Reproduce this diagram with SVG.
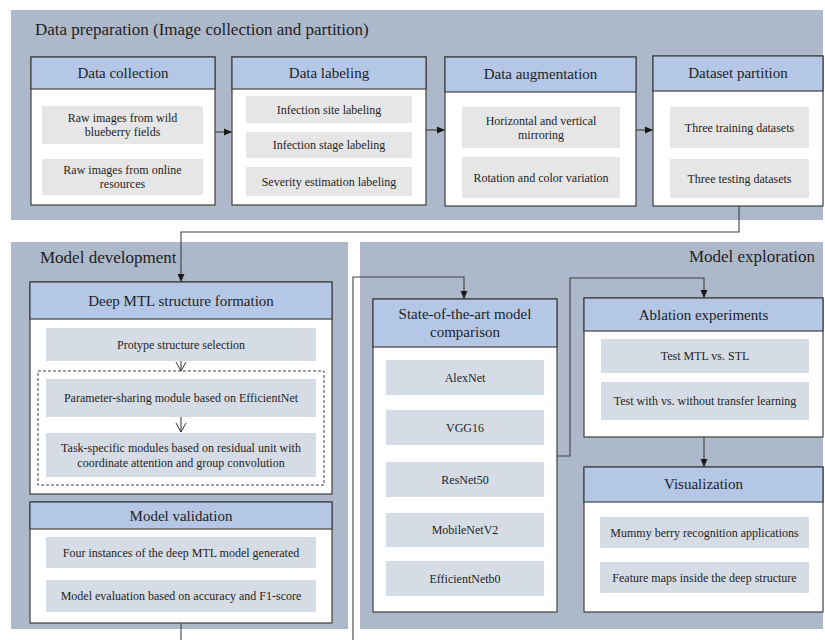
<svg xmlns="http://www.w3.org/2000/svg" width="825" height="640" viewBox="0 0 825 640" font-family="'Liberation Serif', 'DejaVu Serif', serif">
<defs>
<marker id="arr" markerUnits="userSpaceOnUse" markerWidth="8" markerHeight="8" viewBox="0 0 8 8" refX="8" refY="4" orient="auto">
<path d="M0,0.5 L8,4 L0,7.5 Z" fill="#1a1a1a"/>
</marker>
<marker id="open" markerUnits="userSpaceOnUse" markerWidth="10" markerHeight="12" viewBox="0 0 10 12" refX="9" refY="6" orient="auto">
<polyline points="0,1 9,6 0,11" fill="none" stroke="#333" stroke-width="1"/>
</marker>
</defs>
<style>
.panel{fill:#adb9ca}
.box{fill:#ffffff;stroke:#404040;stroke-width:1.2}
.hdr{fill:#b4c7e7;stroke:#404040;stroke-width:1.2}
.ig{fill:#e7e6e6}
.ib{fill:#d6dce5}
text{font-family:'Liberation Serif','DejaVu Serif',serif;fill:#1e1e1e}
.pt{font-size:17px}
.ht{font-size:15px;text-anchor:middle}
.it{font-size:12px;text-anchor:middle}
.con{fill:none;stroke:#404040;stroke-width:1.1}
.dash{fill:none;stroke:#404040;stroke-width:1;stroke-dasharray:3,2}
</style>
<rect width="825" height="640" fill="#ffffff"/>

<g id="panel-prep">
<rect class="panel" x="11" y="10" width="812" height="210"/>
<text class="pt" x="35" y="35">Data preparation (Image collection and partition)</text>
</g>
<g id="panel-dev">
<rect class="panel" x="11" y="242" width="337" height="387"/>
<text class="pt" x="40" y="263">Model development</text>
</g>
<g id="panel-explore">
<rect class="panel" x="360" y="242" width="463" height="387"/>
<text class="pt" x="815" y="262" text-anchor="end">Model exploration</text>
</g>

<g id="connectors">
<line class="con" x1="215" y1="132" x2="232" y2="132" marker-end="url(#arr)"/>
<line class="con" x1="426" y1="130" x2="445" y2="130" marker-end="url(#arr)"/>
<line class="con" x1="636" y1="130" x2="653" y2="130" marker-end="url(#arr)"/>
<path class="con" d="M739,206 V232 H181 V282" marker-end="url(#arr)"/>
<path class="con" d="M181,623 V660 H353 V277 H464 V299" marker-end="url(#arr)"/>
<path class="con" d="M557,456 H570 V278 H704 V298" marker-end="url(#arr)"/>
<line class="con" x1="704" y1="437" x2="704" y2="467" marker-end="url(#arr)"/>
</g>

<g id="data-collection">
<rect class="box" x="31" y="57" width="184" height="148"/>
<rect class="hdr" x="31" y="57" width="184" height="32"/>
<text class="ht" x="123" y="78">Data collection</text>
<rect class="ig" x="42" y="106" width="161" height="38"/>
<text class="it" x="122.5" y="122">Raw images from wild</text>
<text class="it" x="122.5" y="136">blueberry fields</text>
<rect class="ig" x="42" y="159" width="161" height="36"/>
<text class="it" x="122.5" y="174">Raw images from online</text>
<text class="it" x="122.5" y="188">resources</text>
</g>

<g id="data-labeling">
<rect class="box" x="232" y="57" width="194" height="148"/>
<rect class="hdr" x="232" y="57" width="194" height="32"/>
<text class="ht" x="329" y="78">Data labeling</text>
<rect class="ig" x="246" y="96" width="166" height="27"/>
<text class="it" x="329" y="113.5">Infection site labeling</text>
<rect class="ig" x="246" y="132" width="166" height="26"/>
<text class="it" x="329" y="149">Infection stage labeling</text>
<rect class="ig" x="246" y="167" width="166" height="29"/>
<text class="it" x="329" y="185.5">Severity estimation labeling</text>
</g>

<g id="data-augmentation">
<rect class="box" x="445" y="57" width="191" height="149"/>
<rect class="hdr" x="445" y="57" width="191" height="35"/>
<text class="ht" x="540.5" y="79">Data augmentation</text>
<rect class="ig" x="462" y="107" width="158" height="41"/>
<text class="it" x="541" y="125">Horizontal and vertical</text>
<text class="it" x="541" y="139">mirroring</text>
<rect class="ig" x="462" y="157" width="158" height="41"/>
<text class="it" x="541" y="181.5">Rotation and color variation</text>
</g>

<g id="dataset-partition">
<rect class="box" x="653" y="56" width="170" height="150"/>
<rect class="hdr" x="653" y="56" width="170" height="35"/>
<text class="ht" x="738" y="78">Dataset partition</text>
<rect class="ig" x="670" y="107" width="139" height="41"/>
<text class="it" x="739.5" y="131.5">Three training datasets</text>
<rect class="ig" x="670" y="159" width="139" height="39"/>
<text class="it" x="739.5" y="182.5">Three testing datasets</text>
</g>

<g id="deep-mtl">
<rect class="box" x="30" y="282" width="302" height="212"/>
<rect class="hdr" x="30" y="282" width="302" height="37"/>
<text class="ht" x="181" y="306">Deep MTL structure formation</text>
<rect class="ib" x="46" y="328" width="270" height="33"/>
<text class="it" x="181" y="348.5">Protype structure selection</text>
<rect class="dash" x="38" y="371" width="286" height="114"/>
<line class="con" x1="181" y1="361" x2="181" y2="371" marker-end="url(#open)"/>
<rect class="ib" x="46" y="379" width="270" height="38"/>
<text class="it" x="181" y="402">Parameter-sharing module based on EfficientNet</text>
<line class="con" x1="181" y1="417" x2="181" y2="432" marker-end="url(#open)"/>
<rect class="ib" x="46" y="433" width="270" height="44"/>
<text class="it" x="181" y="452">Task-specific modules based on residual unit with</text>
<text class="it" x="181" y="467">coordinate attention and group convolution</text>
</g>

<g id="model-validation">
<rect class="box" x="30" y="502" width="302" height="121"/>
<rect class="hdr" x="30" y="502" width="302" height="27"/>
<text class="ht" x="181" y="521">Model validation</text>
<rect class="ib" x="46" y="537" width="270" height="31"/>
<text class="it" x="181" y="556.5">Four instances of the deep MTL model generated</text>
<rect class="ib" x="46" y="580" width="270" height="32"/>
<text class="it" x="181" y="600">Model evaluation based on accuracy and F1-score</text>
</g>

<g id="sota-comparison">
<rect class="box" x="373" y="299" width="184" height="313"/>
<rect class="hdr" x="373" y="299" width="184" height="48"/>
<text class="ht" x="465" y="319">State-of-the-art model</text>
<text class="ht" x="465" y="337">comparison</text>
<rect class="ib" x="386" y="360" width="158" height="35"/>
<text class="it" x="465" y="381.5">AlexNet</text>
<rect class="ib" x="386" y="410" width="158" height="35"/>
<text class="it" x="465" y="431.5">VGG16</text>
<rect class="ib" x="386" y="462" width="158" height="35"/>
<text class="it" x="465" y="483.5">ResNet50</text>
<rect class="ib" x="386" y="513" width="158" height="34"/>
<text class="it" x="465" y="534">MobileNetV2</text>
<rect class="ib" x="386" y="561" width="158" height="35"/>
<text class="it" x="465" y="582.5">EfficientNetb0</text>
</g>

<g id="ablation">
<rect class="box" x="584" y="298" width="239" height="139"/>
<rect class="hdr" x="584" y="298" width="239" height="33"/>
<text class="ht" x="703.5" y="320">Ablation experiments</text>
<rect class="ib" x="601" y="339" width="208" height="34"/>
<text class="it" x="705" y="360">Test MTL vs. STL</text>
<rect class="ib" x="601" y="382" width="208" height="38"/>
<text class="it" x="705" y="405">Test with vs. without transfer learning</text>
</g>

<g id="visualization">
<rect class="box" x="584" y="467" width="239" height="145"/>
<rect class="hdr" x="584" y="467" width="239" height="35"/>
<text class="ht" x="703.5" y="489">Visualization</text>
<rect class="ib" x="600" y="517" width="209" height="31"/>
<text class="it" x="704.5" y="536.5">Mummy berry recognition applications</text>
<rect class="ib" x="600" y="562" width="209" height="31"/>
<text class="it" x="704.5" y="581.5">Feature maps inside the deep structure</text>
</g>
</svg>
